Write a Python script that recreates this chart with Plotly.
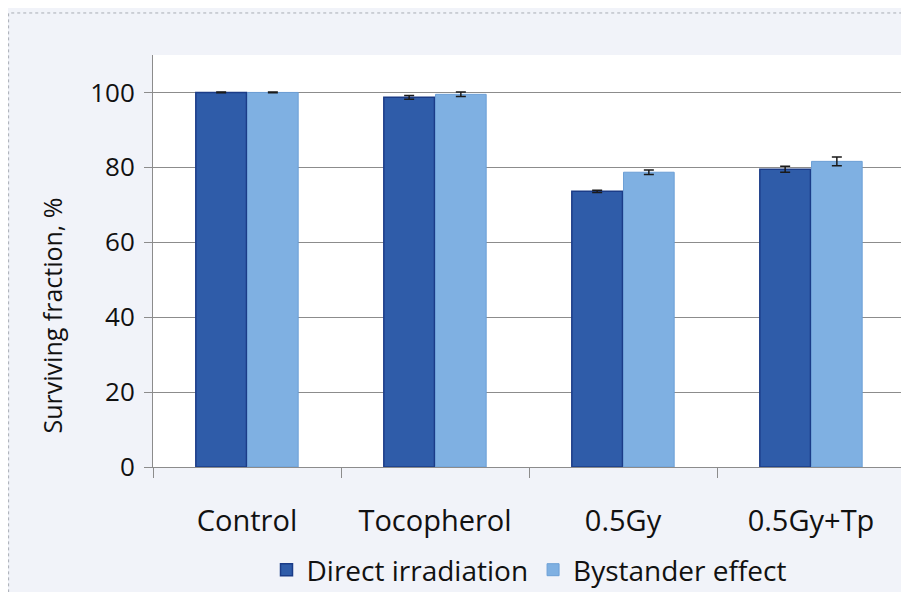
import plotly.graph_objects as go

# Data
categories = ['Control', 'Tocopherol', '0.5Gy', '0.5Gy+Tp']
direct = [100.0, 98.7, 73.6, 79.5]
direct_err = [0.1, 0.5, 0.3, 0.8]
bystander = [100.0, 99.5, 78.7, 81.6]
bystander_err = [0.1, 0.6, 0.6, 1.2]
y_ticks = [0, 20, 40, 60, 80, 100]

font_family = '"Open Sans", Lato, sans-serif'

fig = go.Figure()

fig.add_trace(go.Bar(
    x=categories,
    y=direct,
    name='Direct irradiation',
    marker=dict(color='#2f5ca9', line=dict(color='#1b3c88', width=1.5)),
    error_y=dict(type='data', array=direct_err, color='#1a1a1a', thickness=1.5, width=5),
))

fig.add_trace(go.Bar(
    x=categories,
    y=bystander,
    name='Bystander effect',
    marker=dict(color='#7fb0e2', line=dict(color='#6c9fd6', width=1)),
    error_y=dict(type='data', array=bystander_err, color='#1a1a1a', thickness=1.5, width=5),
))

# Outer frame of the figure
fig.add_shape(
    type='rect', xref='paper', yref='paper',
    x0=-0.192, x1=1.004, y0=-0.4, y1=1.102,
    line=dict(color='#a8acb4', width=1, dash='dot'),
    layer='below',
)

# y axis title sits a bit below the middle of the plot, as in the original
fig.add_annotation(
    text='Surviving fraction, %',
    xref='paper', yref='paper',
    x=-0.16, y=0.367,
    textangle=-90,
    showarrow=False,
    font=dict(size=25, weight=500),
)

# page body adds an 8px offset, so the figure is sized 8px smaller
fig.update_layout(
    width=901,
    height=584,
    margin=dict(l=145, r=4, t=47, b=125, autoexpand=False),
    paper_bgcolor='#f1f3f9',
    plot_bgcolor='#ffffff',
    barmode='group',
    bargap=0.45,
    bargroupgap=0.02,
    font=dict(family=font_family, size=26, color='#111111', weight=500),
    legend=dict(
        orientation='h',
        x=0.5, xanchor='center',
        y=-0.25, yanchor='middle',
        font=dict(size=28),
        bgcolor='rgba(0,0,0,0)',
        tracegroupgap=0,
    ),
    showlegend=True,
)

fig.update_yaxes(
    range=[0, 110],
    tickvals=y_ticks,
    automargin=False,
    showgrid=True,
    gridcolor='#8c8c8c',
    gridwidth=1,
    zeroline=False,
    showline=True,
    linecolor='#8c8c8c',
    ticks='outside',
    ticklen=8,
    tickcolor='#8c8c8c',
    tickfont=dict(size=26),
    ticklabelstandoff=4,
)

fig.update_xaxes(
    automargin=False,
    showline=True,
    linecolor='#8c8c8c',
    ticks='outside',
    ticklen=10,
    tickcolor='#8c8c8c',
    tickson='boundaries',
    tickfont=dict(size=29),
    ticklabelstandoff=28,
    showgrid=False,
)

fig.write_html("out.html")
